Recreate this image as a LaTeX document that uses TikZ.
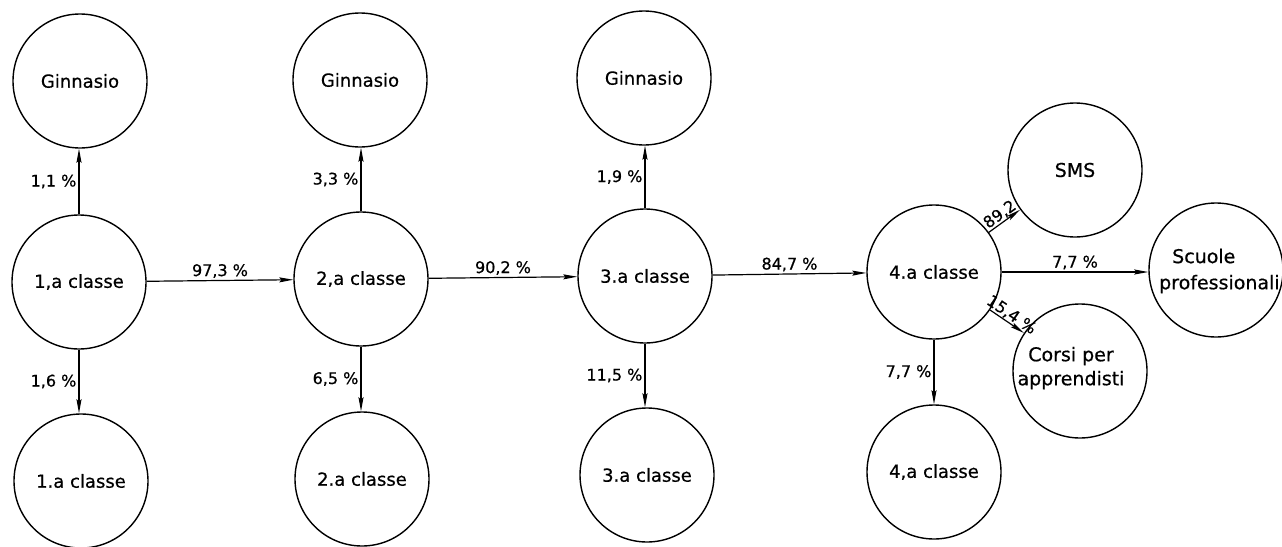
\documentclass[tikz,border=0pt]{standalone}
\usepackage{fontspec}
\setmainfont{DejaVu Sans}[FakeBold=0.6]
\usetikzlibrary{arrows.meta}
\begin{document}
\begin{tikzpicture}[x=1pt,y=-1pt,
  stato/.style={draw, circle, line width=1.4pt, minimum size=134pt, inner sep=0pt, font=\fontsize{18}{20}\selectfont, align=center},
  side/.style={font=\fontsize{19}{24}\selectfont, inner sep=0pt},
  arr/.style={line width=1.2pt, -{Stealth[length=14pt,width=5pt,inset=2pt]}},
  pct/.style={font=\fontsize{16}{18}\selectfont, inner sep=2pt}]
\useasboundingbox (0,0) rectangle (1282,546);
% top row
\node[stato] (g1) at (80,81) {Ginnasio};
\node[stato] (g2) at (360,80) {Ginnasio};
\node[stato] (g3) at (644,78) {Ginnasio};
% middle row
\node[stato] (c1) at (79,282) {1,a classe};
\node[stato] (c2) at (361,279) {2,a classe};
\node[stato] (c3) at (645,276) {3.a classe};
\node[stato] (c4) at (934,272) {4.a classe};
% bottom row
\node[stato] (r1) at (81,481) {1.a classe};
\node[stato] (r2) at (362,479) {2.a classe};
\node[stato] (r3) at (647,475) {3.a classe};
\node[stato] (r4) at (934,472) {4,a classe};
% right side
\node[stato, font=\fontsize{19}{21}\selectfont] (sms) at (1075,170) {\raisebox{-5pt}{SMS}};
\node[stato] (sp) at (1216,270) {};
\node[side, anchor=west] (sp1) at (1172,256) {Scuole};
\node[side, anchor=west] (sp2) at (1159,284) {professionali};
\node[stato] (cp) at (1080,371) {};
\node[side, align=center] (cptext) at (1071,368) {Corsi per\\apprendisti};
% connectors
\draw[arr] (c1) -- node[pct,above]{97,3 \%} (c2);
\draw[arr] (c2) -- node[pct,above]{90,2 \%} (c3);
\draw[arr] (c3) -- node[pct,above]{84,7 \%} (c4);
\draw[arr] (c1.north) -- node[pct,left]{1,1 \%} (c1.north |- g1.south);
\draw[arr] (c2.north) -- node[pct,left]{3,3 \%} (c2.north |- g2.south);
\draw[arr] (c3.north) -- node[pct,left]{1,9 \%} (c3.north |- g3.south);
\draw[arr] (c1.south) -- node[pct,left]{1,6 \%} (c1.south |- r1.north);
\draw[arr] (c2.south) -- node[pct,left]{6,5 \%} (c2.south |- r2.north);
\draw[arr] (c3.south) -- node[pct,left]{11,5 \%} (c3.south |- r3.north);
\draw[arr] (c4.south) -- node[pct,left]{7,7 \%} (r4.north);
\draw[arr] (c4.east) -- node[pct,above]{7,7 \%} (c4.east -| sp.west);
\draw[arr] (c4) -- node[pct,sloped,above,inner sep=0.5pt,pos=0.5]{89,2} (sms);
\draw[arr] (c4) -- node[pct,sloped,above,inner sep=0.5pt,pos=0.5]{15,4 \%} (cp);
\end{tikzpicture}
\end{document}
